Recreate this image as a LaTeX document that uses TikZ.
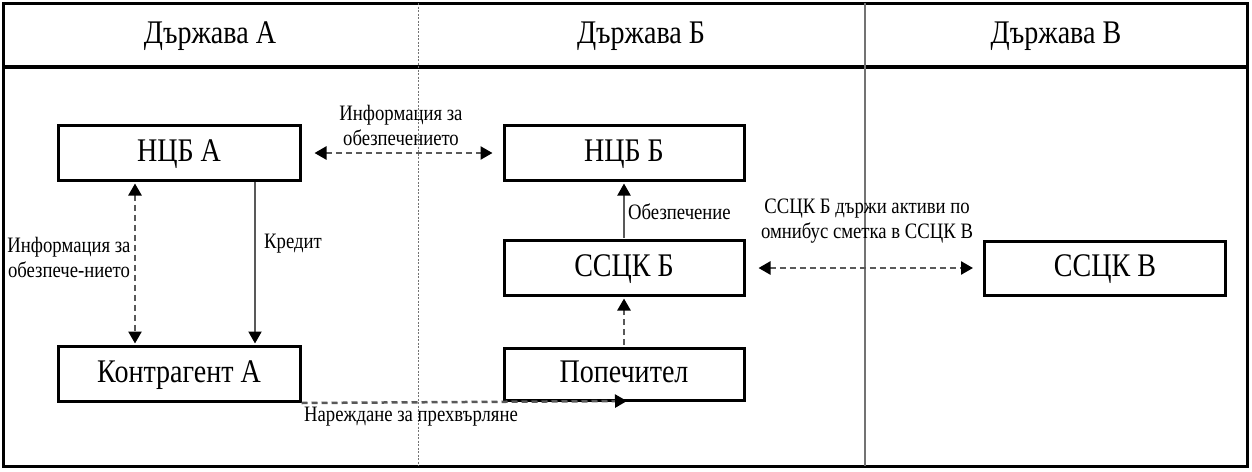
\documentclass[tikz,border=0pt]{standalone}
\usepackage{fontspec}
\setmainfont{Liberation Serif}[FakeStretch=0.85]
\usetikzlibrary{arrows.meta}
\begin{document}
\begin{tikzpicture}[x=1pt,y=-1pt,
  box/.style={draw=black, line width=3pt, minimum width=242pt, minimum height=55pt, inner sep=0pt, text height=22pt, text depth=6pt, font=\fontsize{33}{35}\selectfont},
  hdr/.style={inner sep=0pt, text height=22pt, text depth=6pt, font=\fontsize{33}{35}\selectfont},
  lbl/.style={inner sep=1pt, align=center, font=\fontsize{22}{25}\selectfont},
  dsh/.style={draw=black!65, line width=2.5pt, dash pattern=on 6pt off 4pt, -{Triangle[length=12pt,width=13pt,color=black]}},
  dbl/.style={draw=black!65, line width=2.5pt, dash pattern=on 6pt off 4pt, {Triangle[length=12pt,width=13pt,color=black]}-{Triangle[length=12pt,width=13pt,color=black]}},
  sol/.style={draw=black!65, line width=2pt, -{Triangle[length=12pt,width=13pt,color=black]}}
]
\useasboundingbox (0,0) rectangle (1252,471);
% frame and columns
\draw[line width=3pt] (3,3) rectangle (1247,466);
\draw[line width=4pt] (3,67) -- (1247,67);
\draw[black!55, line width=1pt, dash pattern=on 2pt off 1.5pt] (418,3) -- (418,466);
\draw[black!55, line width=1.2pt] (865,3) -- (865,466);
\node[hdr] (hA) at (210,35) {Държава А};
\node[hdr] (hB) at (641,35) {Държава Б};
\node[hdr] (hV) at (1056,35) {Държава В};
% boxes
\node[box] (ncba) at (179,153) {НЦБ А};
\node[box] (kontra) at (179,374) {Контрагент А};
\node[box, minimum width=240pt] (ncbb) at (624,153) {НЦБ Б};
\node[box, minimum width=240pt] (sscb) at (624,268) {ССЦК Б};
\node[box, minimum width=240pt, minimum height=52pt] (pope) at (624,374) {Попечител};
\node[box, minimum width=241pt, minimum height=54pt] (sscv) at (1105,268) {ССЦК В};
% connectors
\draw[dbl, shorten <=13pt, shorten >=10pt] (ncba.east) -- (ncbb.west);
\draw[dbl, shorten <=1.5pt, shorten >=1.5pt] ([xshift=-44pt]ncba.south) -- ([xshift=-44pt]kontra.north);
\draw[sol, shorten >=1.5pt] ([xshift=76pt]ncba.south) -- ([xshift=76pt]kontra.north);
\draw[sol, shorten <=1.5pt, shorten >=1.5pt] (sscb.north) -- (ncbb.south);
\draw[dsh, shorten <=1.5pt, shorten >=1.5pt] (pope.north) -- (sscb.south);
\draw[dbl, shorten <=13pt, shorten >=10pt] (sscb.east) -- (sscv.west);
\coordinate (nend) at (627,401);
\draw[dsh] (kontra.south east) -- (nend);
% labels
\node[lbl] (l1) at (401,125) {Информация за\\обезпечението};
\node[lbl] (l2) at (69,257) {Информация за\\обезпече-нието};
\node[lbl, anchor=west] (l3) at (263,244) {Кредит};
\node[lbl, anchor=west] (l4) at (627,212) {Обезпечение};
\node[lbl] (l5) at (867,221) {ССЦК Б държи активи по\\омнибус сметка в ССЦК В};
\node[lbl] (l6) at (411,417) {Нареждане за прехвърляне};
\end{tikzpicture}
\end{document}
